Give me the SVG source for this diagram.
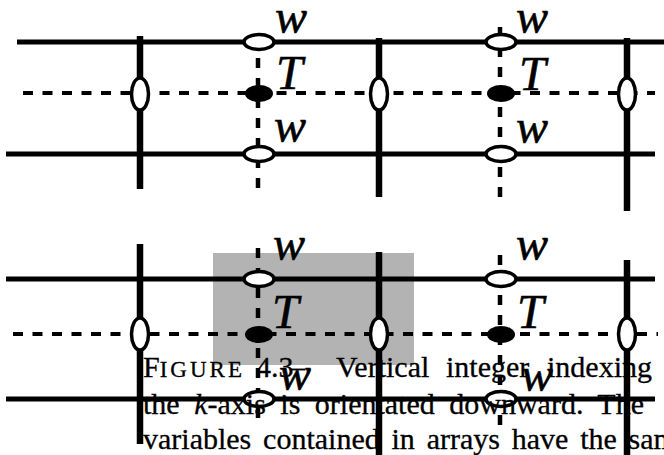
<svg xmlns="http://www.w3.org/2000/svg" width="664" height="455" viewBox="0 0 664 455">
<style>
.solid{stroke:#000;stroke-width:5;fill:none}
.thick{stroke:#000;stroke-width:6.5;fill:none}
.dash{stroke:#000;stroke-width:4;stroke-dasharray:10 9.5;fill:none}
.vdash{stroke:#000;stroke-width:4.5;stroke-dasharray:10 10;fill:none}
.ov{fill:#fff;stroke:#000;stroke-width:3.5}
.oh{fill:#fff;stroke:#000;stroke-width:3.5}
.dot{fill:#000}
.lab{font-family:"Liberation Serif","Times New Roman",serif;font-style:italic;font-size:48px;fill:#000;stroke:#000;stroke-width:0.6}
.cap{font-family:"Liberation Serif","Times New Roman",serif;font-size:30px;fill:#000;stroke:#000;stroke-width:0.3}
</style>
<rect x="213" y="253" width="201" height="112" fill="#b3b3b3"/>
<g id="connectors">
<line class="solid" x1="17" y1="42" x2="664" y2="42"/>
<line class="dash" x1="23" y1="93" x2="655" y2="93"/>
<line class="solid" x1="6" y1="154" x2="655" y2="154"/>
<line class="thick" x1="140" y1="36" x2="140" y2="189"/>
<line class="thick" x1="379" y1="38" x2="379" y2="197"/>
<line class="thick" x1="627" y1="38" x2="627" y2="211"/>
<line class="vdash" x1="258" y1="58" x2="258" y2="193"/>
<line class="vdash" x1="500" y1="27" x2="500" y2="207"/>
<line class="solid" x1="6" y1="279" x2="655" y2="279"/>
<line class="dash" x1="13" y1="334" x2="658" y2="334"/>
<line class="solid" x1="6" y1="399" x2="655" y2="399"/>
<line class="thick" x1="140" y1="244" x2="140" y2="444"/>
<line class="thick" x1="379" y1="252" x2="379" y2="455"/>
<line class="thick" x1="627" y1="260" x2="627" y2="455"/>
<line class="vdash" x1="258" y1="248" x2="258" y2="428"/>
<line class="vdash" x1="500" y1="255" x2="500" y2="434"/>
</g>
<g id="top-left">
<ellipse class="oh" cx="259" cy="42" rx="15" ry="7.5"/>
<ellipse class="dot" cx="259" cy="93.5" rx="14" ry="8.5"/>
<ellipse class="oh" cx="259" cy="154" rx="15" ry="7.5"/>
<text class="lab" x="275" y="33">w</text>
<text class="lab" x="276" y="89">T</text>
<text class="lab" x="274" y="142">w</text>
</g>
<g id="top-right">
<ellipse class="oh" cx="501" cy="42" rx="15" ry="7.5"/>
<ellipse class="dot" cx="501" cy="93.5" rx="14" ry="8.5"/>
<ellipse class="oh" cx="501" cy="154" rx="15" ry="7.5"/>
<text class="lab" x="516" y="33">w</text>
<text class="lab" x="519" y="90">T</text>
<text class="lab" x="516" y="143">w</text>
</g>
<g id="top-verticals">
<ellipse class="ov" cx="140" cy="94" rx="8.5" ry="16"/>
<ellipse class="ov" cx="379" cy="94" rx="8.5" ry="16"/>
<ellipse class="ov" cx="627" cy="94" rx="8.5" ry="16"/>
</g>
<g id="bottom-left">
<ellipse class="oh" cx="259" cy="279" rx="15" ry="7.5"/>
<ellipse class="dot" cx="259" cy="334.5" rx="14" ry="8.5"/>
<ellipse class="oh" cx="259" cy="399" rx="15" ry="7.5"/>
<text class="lab" x="273" y="260">w</text>
<text class="lab" x="272" y="328">T</text>
</g>
<g id="bottom-right">
<ellipse class="oh" cx="501" cy="279" rx="15" ry="7.5"/>
<ellipse class="dot" cx="501" cy="334.5" rx="14" ry="8.5"/>
<ellipse class="oh" cx="501" cy="399" rx="15" ry="7.5"/>
<text class="lab" x="516" y="260">w</text>
<text class="lab" x="517" y="328">T</text>
</g>
<g id="bottom-verticals">
<ellipse class="ov" cx="140" cy="334" rx="8.5" ry="16"/>
<ellipse class="ov" cx="379" cy="334" rx="8.5" ry="16"/>
<ellipse class="ov" cx="627" cy="334" rx="8.5" ry="16"/>
</g>
<g id="caption">
<text class="cap" y="377"><tspan x="143">F</tspan><tspan font-size="23" letter-spacing="3">IGURE</tspan><tspan x="256">4.3</tspan><tspan x="290">–</tspan><tspan x="336">Vertical</tspan><tspan x="446">integer</tspan><tspan x="547">indexing</tspan></text>
<text class="cap" x="143" y="414" word-spacing="7">the <tspan font-style="italic">k</tspan>-axis is orientated downward. The</text>
<text class="cap" x="143" y="449" word-spacing="4.3">variables contained in arrays have the same</text>
</g>
<text class="lab" x="279" y="390">w</text>
<text class="lab" x="521" y="391">w</text>
</svg>
